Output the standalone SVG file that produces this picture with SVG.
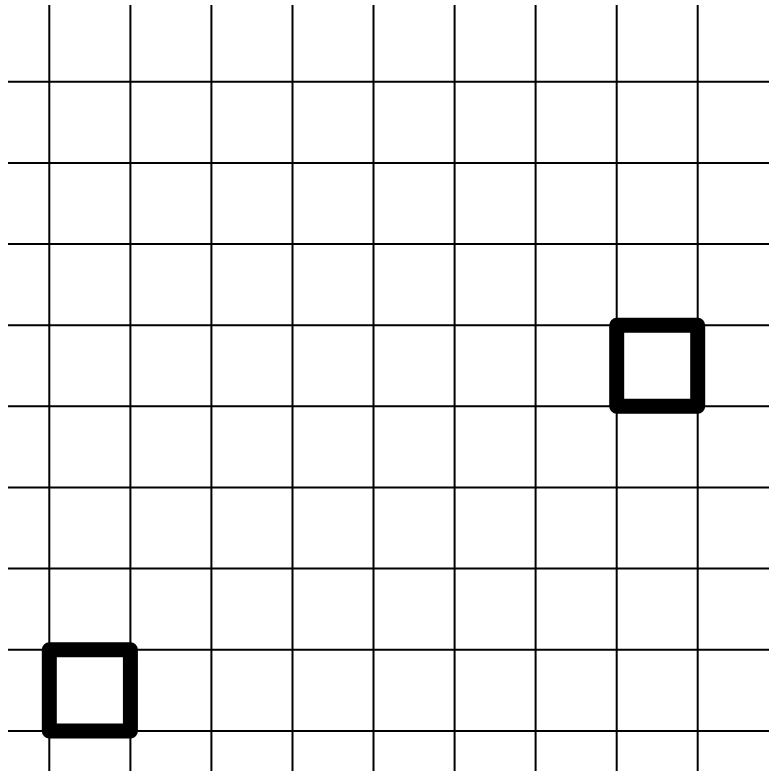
<svg xmlns="http://www.w3.org/2000/svg" width="769" height="774" viewBox="0 0 769 774">
<style>
.g{stroke:#000;stroke-width:2;fill:none}
.sq{stroke:#000;stroke-width:15;fill:none;stroke-linejoin:round}
</style>
<rect width="769" height="774" fill="#fff"/>
<g id="grid" class="g">
<line x1="49.3" y1="5" x2="49.3" y2="771"/>
<line x1="130.4" y1="5" x2="130.4" y2="771"/>
<line x1="211.4" y1="5" x2="211.4" y2="771"/>
<line x1="292.5" y1="5" x2="292.5" y2="771"/>
<line x1="373.5" y1="5" x2="373.5" y2="771"/>
<line x1="454.6" y1="5" x2="454.6" y2="771"/>
<line x1="535.6" y1="5" x2="535.6" y2="771"/>
<line x1="616.7" y1="5" x2="616.7" y2="771"/>
<line x1="697.7" y1="5" x2="697.7" y2="771"/>
<line x1="8" y1="81.7" x2="769" y2="81.7"/>
<line x1="8" y1="162.9" x2="769" y2="162.9"/>
<line x1="8" y1="244" x2="769" y2="244"/>
<line x1="8" y1="325.2" x2="769" y2="325.2"/>
<line x1="8" y1="406.3" x2="769" y2="406.3"/>
<line x1="8" y1="487.5" x2="769" y2="487.5"/>
<line x1="8" y1="568.6" x2="769" y2="568.6"/>
<line x1="8" y1="649.8" x2="769" y2="649.8"/>
<line x1="8" y1="730.9" x2="769" y2="730.9"/>
</g>
<g id="square1"><rect class="sq" x="616.7" y="325.2" width="81" height="81.1"/></g>
<g id="square2"><rect class="sq" x="49.3" y="649.8" width="81.1" height="81.1"/></g>
</svg>
